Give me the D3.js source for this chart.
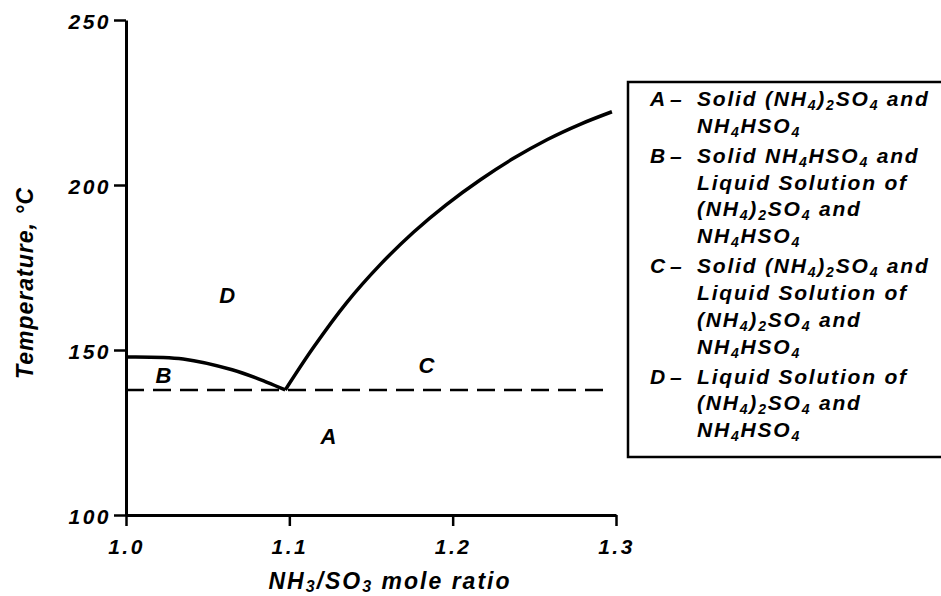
<!DOCTYPE html>
<html>
<head>
<meta charset="utf-8">
<script src="https://cdn.jsdelivr.net/npm/d3@7"></script>
<style>
  body { margin: 0; background: #fff; }
  text { font-family: "Liberation Sans", Arial, sans-serif; font-weight: bold; font-style: italic; fill: #000; }
</style>
</head>
<body>
<svg id="chart" width="941" height="596"></svg>
<script>
// liquidus of NH4HSO4 (left branch, region B below it)
var ratioLeft = [1.0, 1.035, 1.065, 1.086, 1.0975];
var tempLeft = [147.9, 147.3, 144.0, 140.3, 137.9];

// liquidus of (NH4)2SO4 (right branch, region C below it)
var ratioRight = [1.0975, 1.1145, 1.135, 1.1555, 1.176, 1.196, 1.217, 1.237, 1.258, 1.278, 1.2975];
var tempRight = [137.9, 150.6, 164.3, 175.8, 185.7, 194.0, 201.6, 208.0, 213.8, 218.4, 222.2];

// eutectic (dashed)
var eutecticTemp = 137.9;
var eutecticRange = [1.0, 1.295];

var xTicks = [1.0, 1.1, 1.2, 1.3];
var yTicks = [100, 150, 200, 250];

// region letters
var regionNames = ["A", "B", "C", "D"];
var regionRatio = [1.124, 1.023, 1.184, 1.062];
var regionTemp = [124.0, 142.5, 145.3, 166.5];

// legend, "_n" marks a subscript
var legendLetters = ["A", "B", "C", "D"];
var legendLines = [
  ["Solid (NH_4)_2SO_4 and", "NH_4HSO_4"],
  ["Solid NH_4HSO_4 and", "Liquid Solution of", "(NH_4)_2SO_4 and", "NH_4HSO_4"],
  ["Solid (NH_4)_2SO_4 and", "Liquid Solution of", "(NH_4)_2SO_4 and", "NH_4HSO_4"],
  ["Liquid Solution of", "(NH_4)_2SO_4 and", "NH_4HSO_4"]
];

var svg = d3.select("#chart");

var x = d3.scaleLinear().domain([1.0, 1.3]).range([126, 616]);
var y = d3.scaleLinear().domain([100, 250]).range([515, 20]);

// axes
var xAxis = svg.append("g")
    .attr("transform", "translate(0," + y(100) + ")")
    .call(d3.axisBottom(x).tickValues(xTicks).tickFormat(d3.format(".1f"))
      .tickSize(11).tickSizeOuter(0).tickPadding(13));
var yAxis = svg.append("g")
    .attr("transform", "translate(" + x(1.0) + ",0)")
    .call(d3.axisLeft(y).tickValues(yTicks).tickSize(12).tickSizeOuter(0).tickPadding(3));

[xAxis, yAxis].forEach(function(g) {
  g.select(".domain").attr("stroke", "#000").attr("stroke-width", 3);
  g.selectAll(".tick line").attr("stroke", "#000").attr("stroke-width", 2.5);
  g.selectAll(".tick text")
    .attr("font-family", null)
    .style("font-size", "21px")
    .style("letter-spacing", "2.5px");
});
yAxis.selectAll(".tick text").attr("dy", "0.4em");

// axis titles
var xTitle = svg.append("text")
    .attr("x", 390).attr("y", 589)
    .attr("text-anchor", "middle")
    .style("font-size", "23px")
    .style("letter-spacing", "2px");
xTitle.append("tspan").text("NH");
xTitle.append("tspan").text("3").style("font-size", "16px").attr("dy", 3);
xTitle.append("tspan").text("/SO").attr("dy", -3);
xTitle.append("tspan").text("3").style("font-size", "16px").attr("dy", 3);
xTitle.append("tspan").text(" mole ratio").attr("dy", -3);

svg.append("text")
    .attr("transform", "translate(33,283) rotate(-90)")
    .attr("text-anchor", "middle")
    .style("font-size", "23px")
    .style("letter-spacing", "1px")
    .text("Temperature, °C");

// dashed eutectic line
svg.append("line")
    .attr("x1", x(eutecticRange[0])).attr("x2", x(eutecticRange[1]))
    .attr("y1", y(eutecticTemp)).attr("y2", y(eutecticTemp))
    .attr("stroke", "#000").attr("stroke-width", 2.5)
    .attr("stroke-dasharray", "18,9");

// liquidus curves
var line = d3.line()
    .x(function(d) { return x(d[0]); })
    .y(function(d) { return y(d[1]); })
    .curve(d3.curveCatmullRom.alpha(0.5));

svg.append("path")
    .datum(d3.zip(ratioLeft, tempLeft))
    .attr("d", line)
    .attr("fill", "none").attr("stroke", "#000").attr("stroke-width", 3.5);
svg.append("path")
    .datum(d3.zip(ratioRight, tempRight))
    .attr("d", line)
    .attr("fill", "none").attr("stroke", "#000").attr("stroke-width", 3.5);

// region letters
svg.selectAll(".region")
    .data(regionNames)
  .enter().append("text")
    .attr("class", "region")
    .attr("x", function(d, i) { return x(regionRatio[i]); })
    .attr("y", function(d, i) { return y(regionTemp[i]); })
    .attr("text-anchor", "middle")
    .attr("dy", "0.36em")
    .style("font-size", "22px")
    .text(function(d) { return d; });

// legend box (right side runs off the picture)
svg.append("path")
    .attr("d", "M945,82 H628 V457 H945")
    .attr("fill", "none").attr("stroke", "#000").attr("stroke-width", 2.5);

function addRich(textEl, str) {
  // split "_n" into subscript spans
  var parts = str.split(/(_\d)/);
  var sub = false;
  parts.forEach(function(p) {
    if (p === "") return;
    if (p[0] === "_") {
      textEl.append("tspan").text(p.slice(1)).style("font-size", "14px").attr("dy", sub ? 0 : 4);
      sub = true;
    } else {
      textEl.append("tspan").text(p).attr("dy", sub ? -4 : 0);
      sub = false;
    }
  });
}

var lineGap = 26.8, groupGap = 30, ly = 106;
legendLines.forEach(function(lines, i) {
  svg.append("text").attr("x", 650).attr("y", ly).style("font-size", "21px").text(legendLetters[i]);
  svg.append("text").attr("x", 670).attr("y", ly).style("font-size", "21px").text("–");
  lines.forEach(function(l, j) {
    var t = svg.append("text").attr("x", 697).attr("y", ly + j * lineGap)
        .style("font-size", "21px").style("letter-spacing", "1.8px");
    addRich(t, l);
  });
  ly += (lines.length - 1) * lineGap + groupGap;
});
</script>
</body>
</html>
